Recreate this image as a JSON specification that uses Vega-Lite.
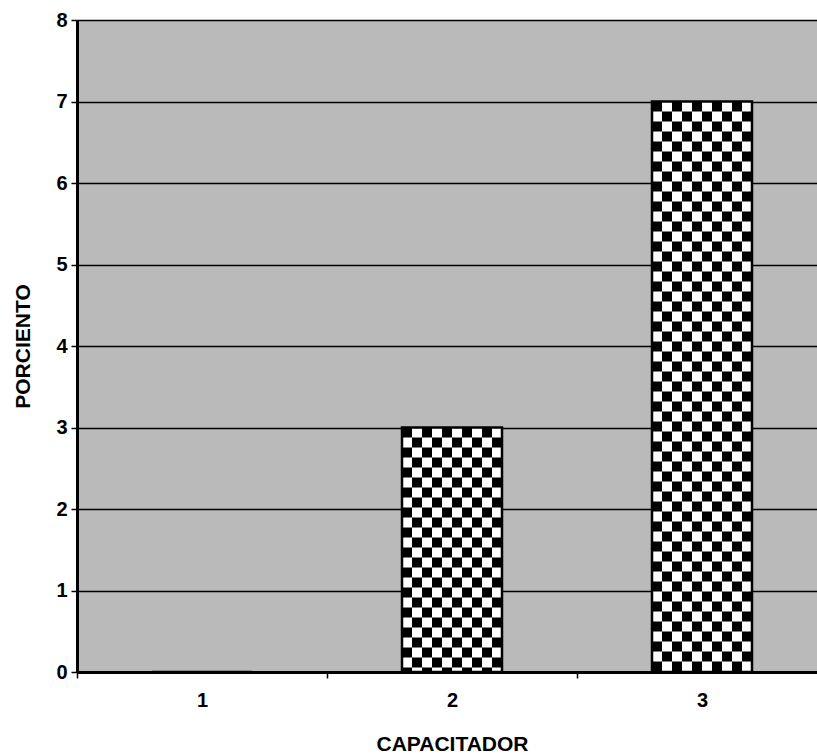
{
  "$schema": "https://vega.github.io/schema/vega-lite/v6.json",
  "width": 740,
  "height": 652,
  "autosize": {"type": "none"},
  "padding": {"left": 77, "top": 20, "right": 0, "bottom": 84},
  "background": "white",
  "config": {
    "view": {"fill": "#bababa", "stroke": null},
    "font": "Liberation Sans",
    "axis": {
      "labelFont": "Liberation Sans",
      "labelFontSize": 20,
      "labelFontWeight": "bold",
      "labelColor": "black",
      "titleFont": "Liberation Sans",
      "titleFontSize": 21,
      "titleFontWeight": "bold",
      "titleColor": "black",
      "domainColor": "black",
      "domainWidth": 3,
      "tickColor": "black",
      "tickSize": 6,
      "tickWidth": 1.5
    }
  },
  "data": {
    "values": [
      {"capacitador": "1", "porciento": 0},
      {"capacitador": "2", "porciento": 3},
      {"capacitador": "3", "porciento": 7}
    ]
  },
  "encoding": {
    "x": {
      "field": "capacitador",
      "type": "nominal",
      "scale": {"range": [0, 750], "paddingInner": 0, "paddingOuter": 0},
      "axis": {
        "title": "CAPACITADOR",
        "labelAngle": 0,
        "tickBand": "extent",
        "grid": false,
        "labelPadding": 12,
        "titlePadding": 23
      }
    },
    "y": {
      "field": "porciento",
      "type": "quantitative",
      "scale": {"domain": [0, 8], "nice": false},
      "axis": {
        "title": "PORCIENTO",
        "values": [0, 1, 2, 3, 4, 5, 6, 7, 8],
        "grid": true,
        "gridColor": "black",
        "gridWidth": 1.6,
        "gridOpacity": 1,
        "labelPadding": 4,
        "titlePadding": 22
      }
    }
  },
  "layer": [
    {"mark": {"type": "bar", "fill": "white", "width": {"band": 0.4}}},
    {"mark": {"type": "rule", "color": "black", "strokeWidth": 10, "strokeCap": "butt", "strokeDash": [10, 10], "strokeDashOffset": 0, "xOffset": -45}, "encoding": {"y2": {"datum": 0}}},
    {"mark": {"type": "rule", "color": "black", "strokeWidth": 10, "strokeCap": "butt", "strokeDash": [10, 10], "strokeDashOffset": 10, "xOffset": -35}, "encoding": {"y2": {"datum": 0}}},
    {"mark": {"type": "rule", "color": "black", "strokeWidth": 10, "strokeCap": "butt", "strokeDash": [10, 10], "strokeDashOffset": 0, "xOffset": -25}, "encoding": {"y2": {"datum": 0}}},
    {"mark": {"type": "rule", "color": "black", "strokeWidth": 10, "strokeCap": "butt", "strokeDash": [10, 10], "strokeDashOffset": 10, "xOffset": -15}, "encoding": {"y2": {"datum": 0}}},
    {"mark": {"type": "rule", "color": "black", "strokeWidth": 10, "strokeCap": "butt", "strokeDash": [10, 10], "strokeDashOffset": 0, "xOffset": -5}, "encoding": {"y2": {"datum": 0}}},
    {"mark": {"type": "rule", "color": "black", "strokeWidth": 10, "strokeCap": "butt", "strokeDash": [10, 10], "strokeDashOffset": 10, "xOffset": 5}, "encoding": {"y2": {"datum": 0}}},
    {"mark": {"type": "rule", "color": "black", "strokeWidth": 10, "strokeCap": "butt", "strokeDash": [10, 10], "strokeDashOffset": 0, "xOffset": 15}, "encoding": {"y2": {"datum": 0}}},
    {"mark": {"type": "rule", "color": "black", "strokeWidth": 10, "strokeCap": "butt", "strokeDash": [10, 10], "strokeDashOffset": 10, "xOffset": 25}, "encoding": {"y2": {"datum": 0}}},
    {"mark": {"type": "rule", "color": "black", "strokeWidth": 10, "strokeCap": "butt", "strokeDash": [10, 10], "strokeDashOffset": 0, "xOffset": 35}, "encoding": {"y2": {"datum": 0}}},
    {"mark": {"type": "rule", "color": "black", "strokeWidth": 10, "strokeCap": "butt", "strokeDash": [10, 10], "strokeDashOffset": 10, "xOffset": 45}, "encoding": {"y2": {"datum": 0}}},
    {"mark": {"type": "bar", "fill": null, "fillOpacity": 0, "stroke": "black", "strokeWidth": 2.5, "width": {"band": 0.4}}}
  ]
}
